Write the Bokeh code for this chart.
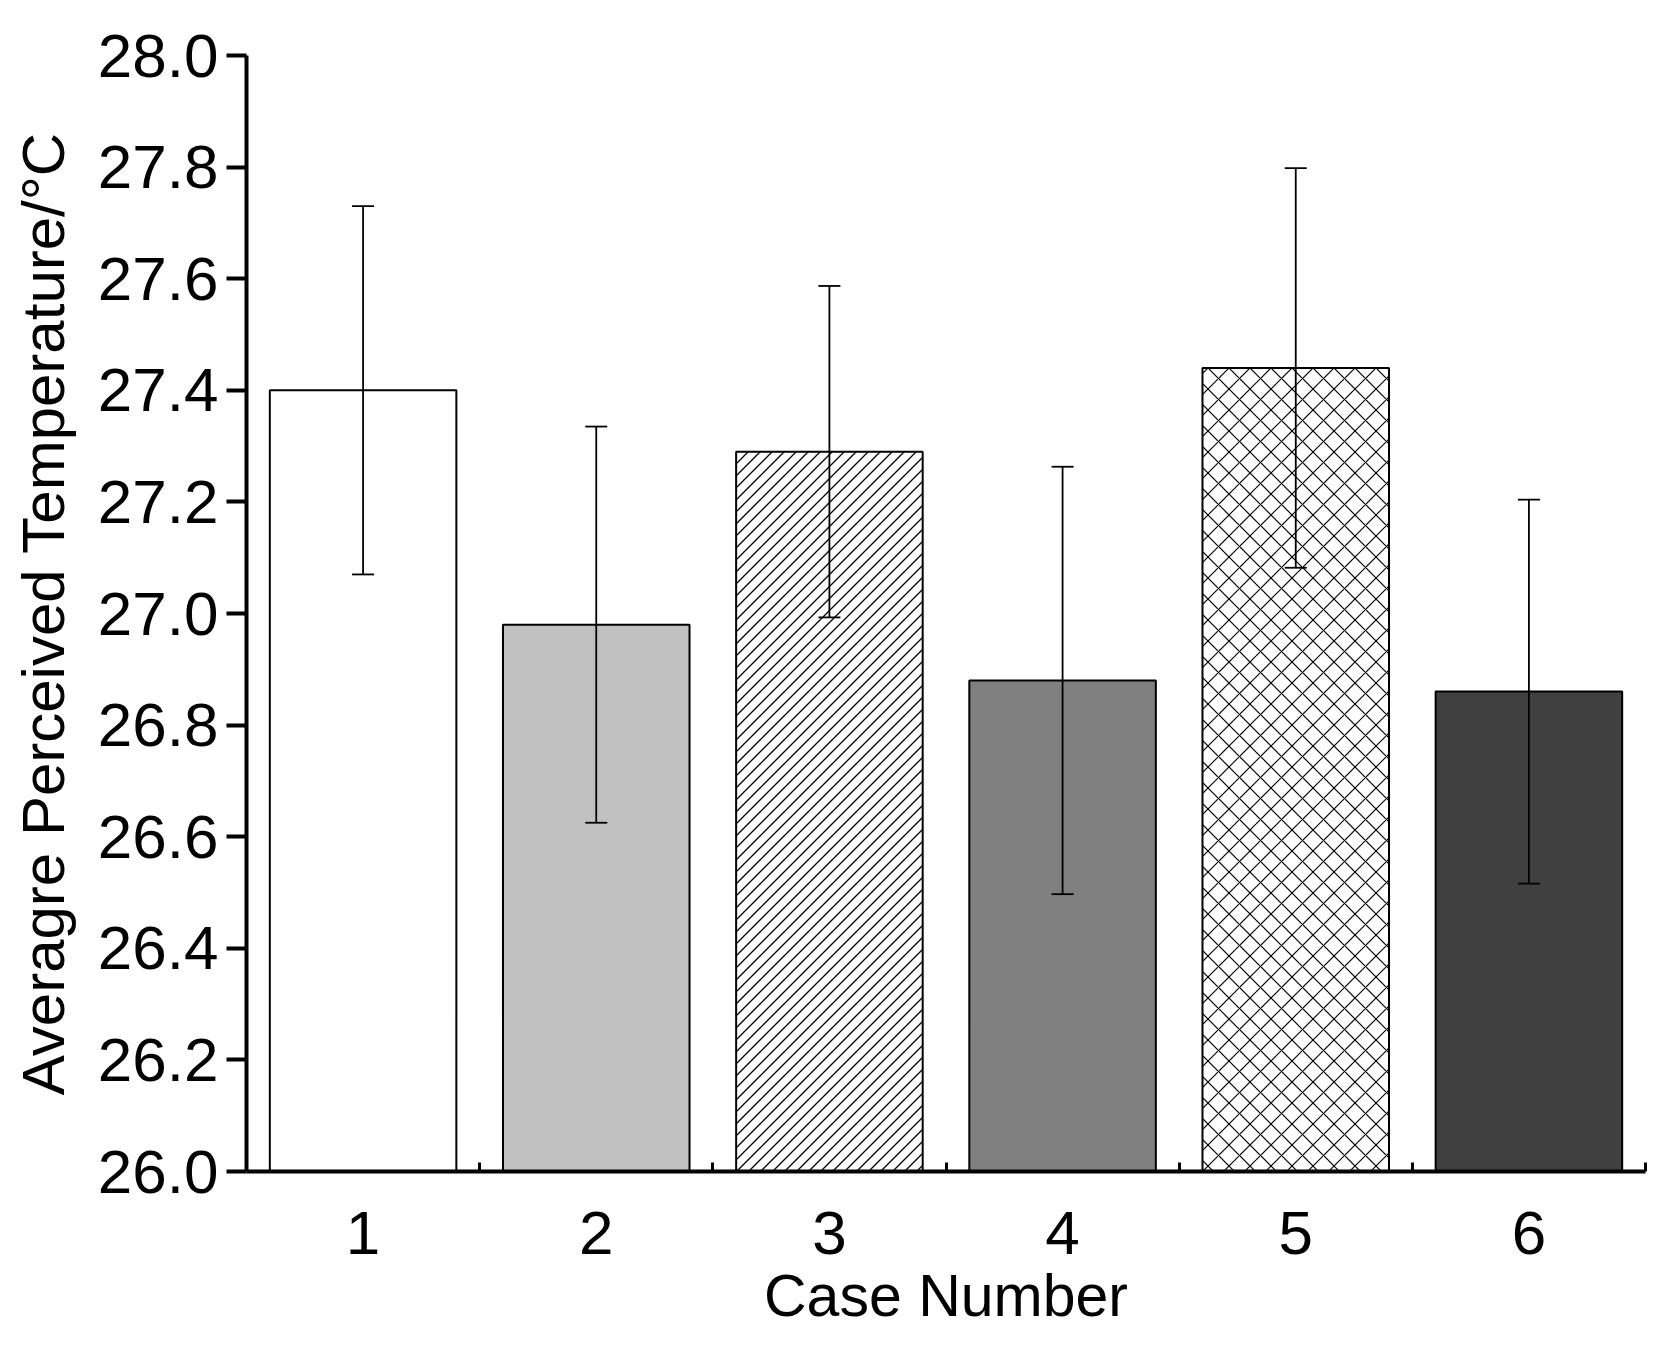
import base64
from bokeh.plotting import figure
from bokeh.models import (Range1d, FixedTicker, PrintfTickFormatter, ColumnDataSource,
                          Whisker, TeeHead, ImageURLTexture)
from bokeh.embed import file_html
from bokeh.resources import INLINE

# ---- data ----
cases = [1, 2, 3, 4, 5, 6]
case_labels = ["1", "2", "3", "4", "5", "6"]
temps = [27.40, 26.98, 27.29, 26.88, 27.44, 26.86]
errors = [0.33, 0.355, 0.297, 0.383, 0.358, 0.344]
fill_colors = ["#ffffff", "#c0c0c0", "#ffffff", "#808080", "#ffffff", "#404040"]
hatches = [" ", " ", "diag45", " ", "diagonal_cross", " "]
hatch_scales = [12, 12, 12, 12, 21, 12]
y_ticks = [26.0, 26.2, 26.4, 26.6, 26.8, 27.0, 27.2, 27.4, 27.6, 27.8, 28.0]
boundary_ticks = [1.5, 2.5, 3.5, 4.5, 5.5, 6.5]
x_title = "Case Number"
y_title = "Averagre Perceived Temperature/\u00b0C"

FONT = "Liberation Sans"

tile_svg = ('<svg xmlns="http://www.w3.org/2000/svg" width="12" height="12">'
            '<path d="M-2,14 L14,-2 M-2,2 L2,-2 M10,14 L14,10" stroke="black" '
            'stroke-width="1.3" fill="none"/></svg>')
tile_url = "data:image/svg+xml;base64," + base64.b64encode(tile_svg.encode()).decode()

p = figure(width=1647, height=1331, output_backend="svg", toolbar_location=None,
           x_range=Range1d(0.5, 6.5), y_range=Range1d(26.0, 28.0),
           min_border_left=246, min_border_right=2, min_border_top=55, min_border_bottom=156)
p.outline_line_color = None
p.xgrid.visible = False
p.ygrid.visible = False
p.background_fill_color = "white"
p.border_fill_color = "white"

src = ColumnDataSource(dict(
    x=cases, top=temps, color=fill_colors, hatch=hatches, hscale=hatch_scales,
    upper=[t + e for t, e in zip(temps, errors)],
    lower=[t - e for t, e in zip(temps, errors)],
))

p.vbar(x="x", top="top", bottom=26.0, width=0.8, source=src,
       fill_color="color", line_color="black", line_width=2,
       hatch_pattern="hatch", hatch_scale="hscale", hatch_color="black", hatch_weight=1.2,
       hatch_extra={"diag45": ImageURLTexture(url=tile_url)})

w = Whisker(base="x", upper="upper", lower="lower", source=src,
            line_color="black", line_width=1.8, level="overlay",
            upper_head=TeeHead(size=22, line_color="black", line_width=1.8),
            lower_head=TeeHead(size=22, line_color="black", line_width=1.8))
p.add_layout(w)

# y axis
ya = p.yaxis[0]
ya.ticker = FixedTicker(ticks=y_ticks)
ya.formatter = PrintfTickFormatter(format="%.1f")
ya.axis_line_width = 4
ya.axis_line_color = "black"
ya.major_tick_line_width = 4
ya.major_tick_out = 20
ya.major_tick_in = 0
ya.minor_tick_line_color = None
ya.major_label_text_font = FONT
ya.major_label_text_font_size = "62px"
ya.major_label_text_color = "black"
ya.major_label_standoff = 8
ya.axis_label = y_title
ya.axis_label_text_font = FONT
ya.axis_label_text_font_size = "60px"
ya.axis_label_text_font_style = "normal"
ya.axis_label_text_color = "black"
ya.axis_label_standoff = 18

# x axis
xa = p.xaxis[0]
xa.ticker = FixedTicker(ticks=cases, minor_ticks=boundary_ticks)
xa.major_label_overrides = {c: l for c, l in zip(cases, case_labels)}
xa.axis_line_width = 4
xa.axis_line_color = "black"
xa.major_tick_line_color = None
xa.major_tick_in = 0
xa.major_tick_out = 0
xa.minor_tick_line_width = 3
xa.minor_tick_line_color = "black"
xa.minor_tick_in = 9
xa.minor_tick_out = 0
xa.major_label_text_font = FONT
xa.major_label_text_font_size = "62px"
xa.major_label_text_color = "black"
xa.major_label_text_line_height = 0.7
xa.major_label_standoff = 40
xa.axis_label = x_title
xa.axis_label_text_font = FONT
xa.axis_label_text_font_size = "59px"
xa.axis_label_text_font_style = "normal"
xa.axis_label_text_color = "black"
xa.axis_label_text_line_height = 0.7
xa.axis_label_standoff = 6

open("out.html", "w").write(file_html(p, INLINE))
